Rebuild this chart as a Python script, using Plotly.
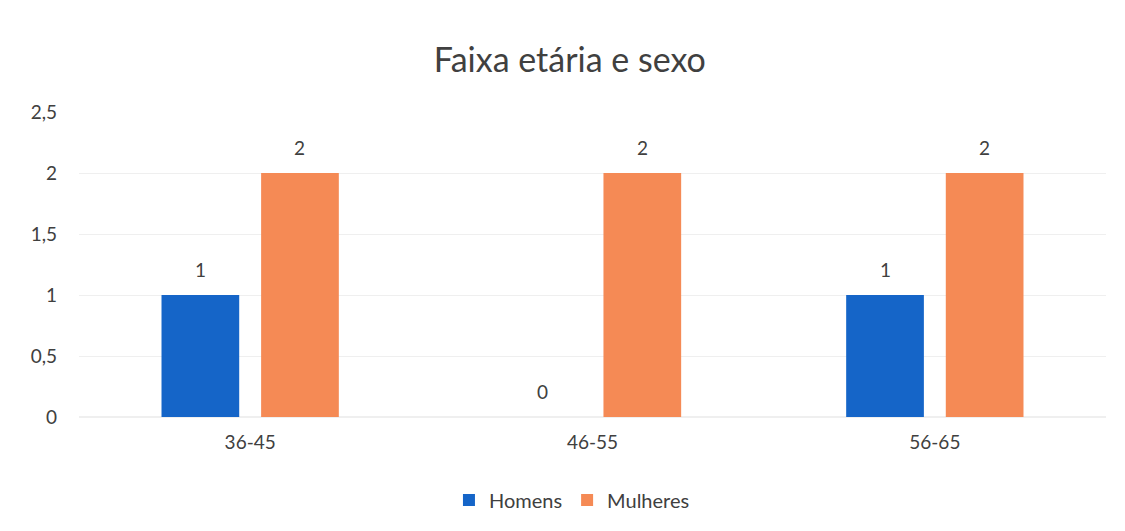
import plotly.graph_objects as go

categories = ["36-45", "46-55", "56-65"]
homens = [1, 0, 1]
mulheres = [2, 2, 2]
series_names = ["Homens", "Mulheres"]
tick_vals = [0, 0.5, 1, 1.5, 2, 2.5]
tick_text = ["0", "0,5", "1", "1,5", "2", "2,5"]

font_family = "Lato, 'Open Sans', sans-serif"
text_color = "#404040"
colors = ["#1565C8", "#F58A55"]

W, H = 1117, 523
ML, MR, MT, MB = 71, 19, 104, 114
BARGAP, BARGROUPGAP = 0.418, 0.22

fig = go.Figure()
for name, vals, col in zip(series_names, [homens, mulheres], colors):
    fig.add_trace(go.Bar(
        x=categories, y=vals, name=name,
        marker=dict(color=col, line=dict(width=0)),
    ))

# data labels above each bar
plot_w = W - ML - MR
cat_w = plot_w / len(categories)
slot = (1 - BARGAP) * cat_w / 2
for i, vals in enumerate([homens, mulheres]):
    dx = (i - 0.5) * slot
    for c, v in zip(categories, vals):
        fig.add_annotation(x=c, y=v, xref="x", yref="y", text=str(v), showarrow=False,
                           xshift=dx, yshift=26, yanchor="middle",
                           font=dict(size=19, color=text_color, family=font_family))

fig.update_layout(
    width=W, height=H,
    paper_bgcolor="white", plot_bgcolor="white",
    margin=dict(l=ML, r=MR, t=MT, b=MB),
    title=dict(text="Faixa etária e sexo", x=0.503, xanchor="center", y=0.9006, yanchor="middle",
               font=dict(size=34, color=text_color, family=font_family)),
    barmode="group", bargap=BARGAP, bargroupgap=BARGROUPGAP,
    font=dict(family=font_family, color=text_color, size=18),
    legend=dict(orientation="h", x=0.48, xanchor="center", y=-0.272, yanchor="middle",
                font=dict(size=20, color=text_color, family=font_family),
                itemwidth=30, traceorder="normal"),
    xaxis=dict(showgrid=False, showline=False, ticks="", ticklabelstandoff=12,
               tickfont=dict(size=19, color=text_color)),
    yaxis=dict(range=[0, 2.5], tickvals=tick_vals, ticktext=tick_text, showgrid=True,
               gridcolor="#efefef", gridwidth=1, zeroline=True, zerolinecolor="#efefef",
               showline=False, ticks="", ticklabelstandoff=21,
               tickfont=dict(size=19, color=text_color)),
)

fig.write_html("out.html")
